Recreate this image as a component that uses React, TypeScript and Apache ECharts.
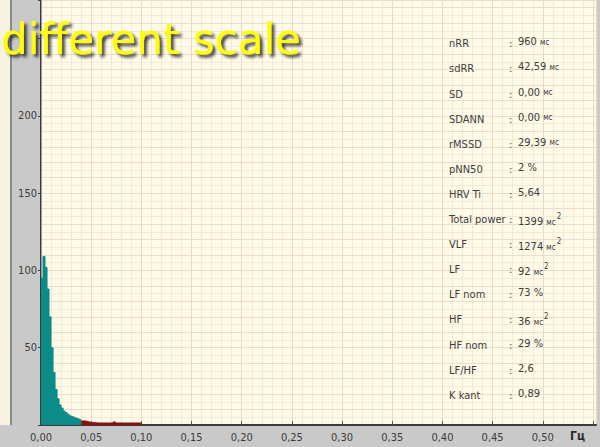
import React, { useEffect, useRef } from "react";
import * as echarts from "echarts";

// VLF spectrum (teal), bin starts every 0.002 Hz
const vlfFreq = [0, 0.002, 0.004, 0.006, 0.008, 0.01, 0.012, 0.014, 0.016, 0.018, 0.02, 0.022, 0.024, 0.026, 0.028, 0.03, 0.032, 0.034, 0.036, 0.038, 0.04];
const vlfPower = [95, 109, 102, 88, 70, 50, 34, 23, 17, 13, 11, 9, 8, 7, 6, 5.5, 5, 4.5, 4, 3.5, 3.5];
// LF spectrum (dark red)
const lfFreq = [0.04, 0.042, 0.044, 0.046, 0.048, 0.05, 0.054, 0.058, 0.062, 0.066, 0.07, 0.072, 0.074, 0.078, 0.082, 0.086, 0.09, 0.094, 0.098, 0.1];
const lfPower = [2.6, 2.6, 2.4, 2.0, 1.6, 1.4, 1.3, 1.3, 1.3, 1.3, 1.4, 2.0, 1.3, 1.3, 1.3, 1.3, 1.3, 1.3, 1.3, 1.3];

const statLabels = ["nRR", "sdRR", "SD", "SDANN", "rMSSD", "pNN50", "HRV Ti", "Total power", "VLF", "LF", "LF nom", "HF", "HF nom", "LF/HF", "K kant"];
const statValues = ["960", "42,59", "0,00", "0,00", "29,39", "2 %", "5,64", "1399", "1274", "92", "73 %", "36", "29 %", "2,6", "0,89"];
const statUnits = ["мс", "мс", "мс", "мс", "мс", "", "", "мс2", "мс2", "мс2", "", "мс2", "", "", ""];

const titleText = "different scale";
const xUnit = "Гц";

const FONT = "'Liberation Sans Narrow', 'DejaVu Sans Condensed', 'Liberation Sans', Arial, sans-serif";

export default function App() {
  const ref = useRef<HTMLDivElement>(null);
  useEffect(() => {
    if (!ref.current) return;
    const chart = echarts.init(ref.current, null, { renderer: "svg" });
    const vlfData = vlfFreq.map((f, i) => [f, vlfPower[i]]);
    const lfData = lfFreq.map((f, i) => [f, lfPower[i]]);

    const stats: any[] = [];
    statLabels.forEach((lab, i) => {
      const y = 45.3 + 25.1 * i;
      stats.push({
        type: "text", left: 449, top: y - 7, z: 50,
        style: { text: lab, fill: "#3c3c3c", font: `11px ${FONT}` },
      });
      stats.push({
        type: "text", left: 509, top: y - 7, z: 50,
        style: { text: ":", fill: "#3c3c3c", font: `11px ${FONT}` },
      });
      const u = statUnits[i];
      let txt = statValues[i];
      if (u === "мс") txt = `{v|${statValues[i]} }{u|мс}`;
      else if (u === "мс2") txt = `{v|${statValues[i]} }{u|мс}{s|2}`;
      else txt = `{v|${statValues[i]}}`;
      stats.push({
        type: "text", left: 518, top: y - 9, z: 50,
        style: {
          text: txt,
          rich: {
            v: { fontSize: 11, fontFamily: FONT, fill: "#3c3c3c", lineHeight: 16, verticalAlign: "bottom" },
            u: { fontSize: 8, fontFamily: FONT, fill: "#3c3c3c", lineHeight: 16, verticalAlign: "bottom", padding: [0, 0, 1, 0] },
            s: { fontSize: 8, fontFamily: FONT, fill: "#3c3c3c", lineHeight: 16, verticalAlign: "bottom", padding: [0, 0, 7, 1] },
          },
        },
      });
    });

    chart.setOption({
      animation: false,
      backgroundColor: "#c9c9c9",
      grid: { left: 41, right: 4, top: 0, bottom: 22, show: true, backgroundColor: "#fffbe8", borderWidth: 0 },
      xAxis: [
        {
          type: "value", min: 0, max: 0.553, interval: 0.05, position: "bottom",
          axisLine: { show: true, lineStyle: { color: "#3a3a3a", width: 2 } },
          axisTick: { show: true, inside: true, length: 4, lineStyle: { color: "#555" } },
          axisLabel: {
            color: "#3c3c3c", fontSize: 11, fontFamily: FONT, margin: 7,
            showMaxLabel: false,
            formatter: (v: number) => (v > 0.52 ? "" : v.toFixed(2).replace(".", ",")),
          },
          splitLine: { show: true, lineStyle: { color: "#ead9c9", width: 1 } },
          z: 5,
        },
        {
          type: "value", min: 0, max: 0.553, interval: 0.01, position: "top",
          axisLine: { show: false }, axisTick: { show: false }, axisLabel: { show: false },
          splitLine: { show: true, lineStyle: { color: "#f1e9d6", width: 1 } },
          z: 1,
        },
      ],
      yAxis: [
        {
          type: "value", min: 0, max: 275, interval: 50, position: "left",
          axisLine: { show: true, lineStyle: { color: "#9a9a9a", width: 1 } },
          axisTick: { show: true, length: 3, lineStyle: { color: "#444" } },
          axisLabel: {
            color: "#3c3c3c", fontSize: 11, fontFamily: FONT, margin: 4,
            formatter: (v: number) => (v === 0 || v > 200 ? "" : String(v)),
          },
          splitLine: { show: false },
          z: 5,
        },
        {
          type: "value", min: 0, max: 275, interval: 5, position: "right",
          axisLine: { show: true, lineStyle: { color: "#3a3a3a", width: 2 } },
          axisTick: { show: false }, axisLabel: { show: false },
          splitLine: { show: true, lineStyle: { color: "#f3ebd8", width: 1 } },
          z: 1,
        },
        {
          type: "value", min: 0, max: 275, interval: 10, position: "right", offset: 0,
          axisLine: { show: false }, axisTick: { show: false }, axisLabel: { show: false },
          splitLine: { show: true, lineStyle: { color: "#ecdccf", width: 1 } },
          z: 2,
        },
      ],
      series: [
        {
          type: "line", step: "end", data: vlfData, symbol: "none", xAxisIndex: 0, yAxisIndex: 0,
          lineStyle: { color: "#0b8c88", width: 1 },
          areaStyle: { color: "#0b8c88", opacity: 1 },
          z: 10,
        },
        {
          type: "line", step: "end", data: lfData, symbol: "none", xAxisIndex: 0, yAxisIndex: 0,
          lineStyle: { color: "#8e0e0e", width: 1 },
          areaStyle: { color: "#8e0e0e", opacity: 1 },
          z: 10,
        },
      ],
      graphic: [
        { type: "rect", left: 0, top: 0, shape: { width: 10, height: 425 }, style: { fill: "#f7f3e2" }, z: 20 },
        { type: "rect", left: 10, top: 0, shape: { width: 2, height: 425 }, style: { fill: "#8a8a8a" }, z: 20 },
        {
          type: "text", left: 570, top: 430, z: 50,
          style: { text: xUnit, fill: "#2a2a2a", font: `bold 12px ${FONT}` },
        },
        ...stats,
        {
          type: "text", left: 1, top: 18, z: 100,
          style: {
            text: titleText, fill: "#ffff00",
            font: "42px 'DejaVu Sans', Verdana, sans-serif",
            textShadowColor: "rgba(30,30,30,0.85)", textShadowBlur: 3,
            textShadowOffsetX: 3, textShadowOffsetY: 3,
          },
        },
      ],
    });
    return () => chart.dispose();
  }, []);
  return (
    <div
      ref={ref}
      style={{ position: "fixed", left: 0, top: 0, width: 600, height: 447 }}
    />
  );
}
